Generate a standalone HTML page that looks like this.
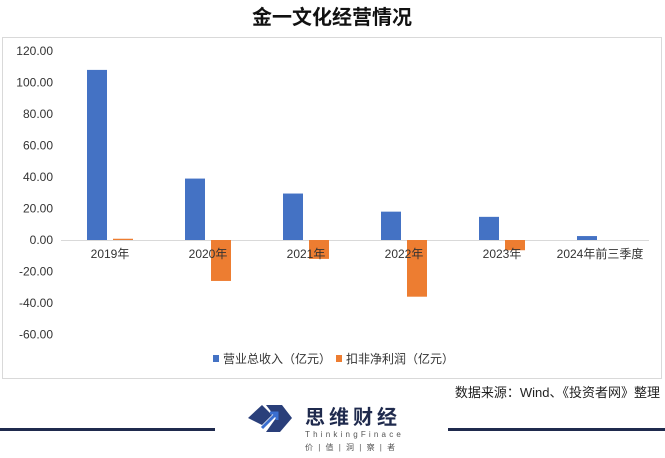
<!DOCTYPE html>
<html><head><meta charset="utf-8"><style>
body{margin:0;width:665px;height:453px;background:#fff;overflow:hidden;font-family:"Liberation Sans","Noto Sans CJK SC",sans-serif;}
</style></head><body>
<svg width="665" height="453" xmlns="http://www.w3.org/2000/svg">
<text x="332" y="24" text-anchor="middle" font-size="20" font-weight="bold" fill="#111" font-family="Liberation Sans, Noto Sans CJK SC, sans-serif">金一文化经营情况</text>
<rect x="2.5" y="37.5" width="659" height="341" fill="#fff" stroke="#d9d9d9"/>
<g id="yaxis"></g><g id="bars"></g><g id="xlabels"></g>
<g font-size="12" fill="#333">
<rect x="213" y="355" width="6" height="7" fill="#4472c4"/>
<text x="223" y="363">营业总收入（亿元）</text>
<rect x="336" y="355" width="6" height="7" fill="#ed7d31"/>
<text x="346" y="363">扣非净利润（亿元）</text>
</g>
<text x="660" y="397" text-anchor="end" font-size="13" fill="#222">数据来源：Wind、《投资者网》整理</text>
<g>
<rect x="0" y="428" width="215" height="3" fill="#1f2a4d"/>
<rect x="448" y="428" width="217" height="3" fill="#1f2a4d"/>
<path d="M248 418 L262 405 L272 415 L262 425 Z M266 405 L282 405 L292 418 L280 432 L266 432 L276 418 Z" fill="#2a3f7a"/>
<path d="M262 428 L276 414 M270 413 L277 413 L277 420" stroke="#3b6fd0" stroke-width="3" fill="none"/>
<text x="305" y="424" font-size="20" font-weight="bold" fill="#1f2a4d" letter-spacing="4">思维财经</text>
<text x="305" y="437" font-size="8" fill="#555" letter-spacing="3.2">ThinkingFinace</text>
<text x="305" y="450" font-size="8" fill="#555" letter-spacing="1.5">价 | 值 | 洞 | 察 | 者</text>
</g>
</svg>
<script>
const categories=["2019年","2020年","2021年","2022年","2023年","2024年前三季度"];
const revenue=[108,39,29.5,18,14.7,2.5];
const profit=[0.8,-26,-12,-36,-6.5,0];
const yTicks=[120,100,80,60,40,20,0,-20,-40,-60];
const NS="http://www.w3.org/2000/svg";
const y=v=>240-v*31.5/20;
const x0=61,bandW=98;
const cx=i=>x0+bandW*(i+0.5);
function mk(t,a,p,txt){const e=document.createElementNS(NS,t);for(const k in a)e.setAttribute(k,a[k]);if(txt!=null)e.textContent=txt;p.appendChild(e);return e;}
const ya=document.getElementById('yaxis'),bg=document.getElementById('bars'),xl=document.getElementById('xlabels');
yTicks.forEach(v=>{const t=mk('text',{x:53,y:y(v)+4,'text-anchor':'end','font-size':12,fill:'#333'},ya,v.toFixed(2));

});
const ax=mk('line',{x1:61,x2:649,y1:240.5,y2:240.5,stroke:'#d9d9d9'},ya);


categories.forEach((c,i)=>{
 const r=revenue[i],p=profit[i];
 const b=mk('rect',{x:cx(i)-23,width:20,y:Math.min(y(r),y(0)),height:Math.abs(y(r)-y(0)),fill:'#4472c4'},bg);
 
 
 const o=mk('rect',{x:cx(i)+3,width:20,y:Math.min(y(p),y(0)),height:Math.abs(y(p)-y(0)),fill:'#ed7d31'},bg);
 
 
 const l=mk('text',{x:cx(i),y:258,'text-anchor':'middle','font-size':12,fill:'#333'},xl,c);
 
 
});
</script>
</body></html>
